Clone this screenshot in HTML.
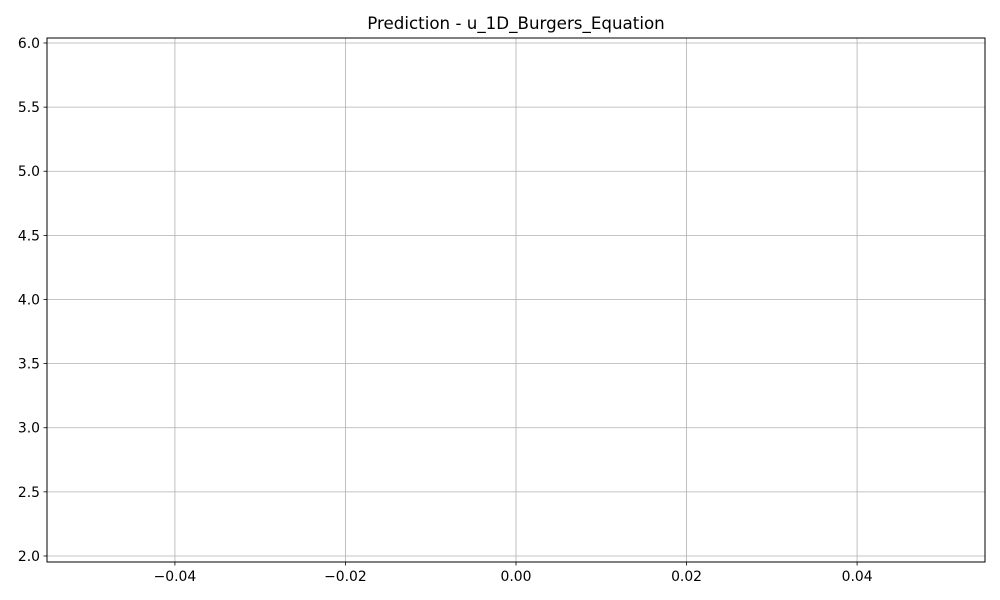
<!DOCTYPE html>
<html><head><meta charset="utf-8"><style>
html,body{margin:0;padding:0;background:#fff;}
svg{display:block;font-family:"DejaVu Sans","Liberation Sans",sans-serif;}
</style></head><body>
<svg id="chart" width="1000" height="600">
<rect x="0" y="0" width="1000" height="600" fill="#fff"/>
<text x="516" y="29" text-anchor="middle" font-size="16.7" fill="#000">Prediction - u_1D_Burgers_Equation</text>
<g id="grid"></g>
<g id="ticks"></g>
<rect x="47" y="38" width="938" height="524" fill="none" stroke="#000" stroke-width="1"/>
</svg>
<script>
const xTicks = [-0.04, -0.02, 0.00, 0.02, 0.04];
const xTickLabels = ["\u22120.04", "\u22120.02", "0.00", "0.02", "0.04"];
const yTicks = [2.0, 2.5, 3.0, 3.5, 4.0, 4.5, 5.0, 5.5, 6.0];
const yTickLabels = ["2.0", "2.5", "3.0", "3.5", "4.0", "4.5", "5.0", "5.5", "6.0"];
const xDomain = [-0.055, 0.055];
const yDomain = [1.953, 6.039];

const L = 47, R = 985, T = 38, B = 562;
const sx = v => L + (v - xDomain[0]) / (xDomain[1] - xDomain[0]) * (R - L);
const sy = v => B - (v - yDomain[0]) / (yDomain[1] - yDomain[0]) * (B - T);
const NS = "http://www.w3.org/2000/svg";
const grid = document.getElementById('grid');
const ticks = document.getElementById('ticks');
function mk(tag, attrs, parent) {
  const e = document.createElementNS(NS, tag);
  for (const k in attrs) e.setAttribute(k, attrs[k]);
  parent.appendChild(e);
  return e;
}
xTicks.forEach((v, i) => {
  const x = sx(v);
  const g = mk('line', {x1: x, x2: x, y1: T, y2: B, stroke: '#b0b0b0', 'stroke-width': 0.8}, grid);
  
  
  const t = mk('line', {x1: x, x2: x, y1: B, y2: B + 3.5, stroke: '#000', 'stroke-width': 0.8}, ticks);
  
  
  const l = mk('text', {x: x, y: B + 19, 'text-anchor': 'middle', 'font-size': 13.9, fill: '#000'}, ticks);
  l.textContent = xTickLabels[i];
  
  
});
yTicks.forEach((v, i) => {
  const y = sy(v);
  const g = mk('line', {x1: L, x2: R, y1: y, y2: y, stroke: '#b0b0b0', 'stroke-width': 0.8}, grid);
  
  
  const t = mk('line', {x1: L - 3.5, x2: L, y1: y, y2: y, stroke: '#000', 'stroke-width': 0.8}, ticks);
  
  
  const l = mk('text', {x: L - 7, y: y + 5, 'text-anchor': 'end', 'font-size': 13.9, fill: '#000'}, ticks);
  l.textContent = yTickLabels[i];
  
  
});
</script>
</body></html>
